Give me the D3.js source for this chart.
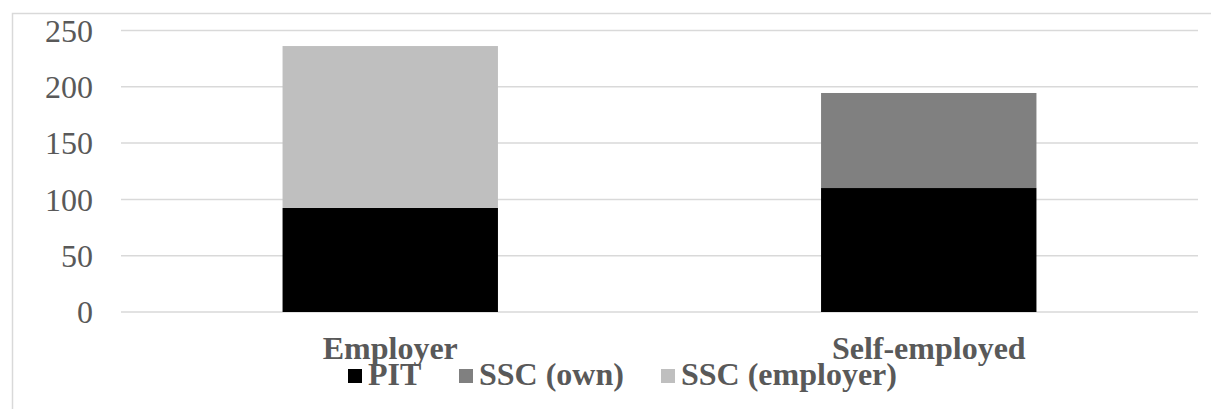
<!DOCTYPE html>
<html>
<head>
<meta charset="utf-8">
<script src="https://cdn.jsdelivr.net/npm/d3@7/dist/d3.min.js"></script>
<style>
  html, body { margin: 0; padding: 0; background: #fff; }
  svg { display: block; }
</style>
</head>
<body>
<svg id="chart" width="1211" height="409"></svg>
<script>
// Tax and contribution burden by category (stacked)
const categories = ["Employer", "Self-employed"];
const seriesNames = ["PIT", "SSC (own)", "SSC (employer)"];
const pitValues = [92.4, 110.1];
const sscOwnValues = [0, 84.4];
const sscEmployerValues = [143.8, 0];
const yTicks = [0, 50, 100, 150, 200, 250];
const seriesColors = ["#000000", "#808080", "#bfbfbf"];

const rows = categories.map((c, i) => ({
  category: c,
  "PIT": pitValues[i],
  "SSC (own)": sscOwnValues[i],
  "SSC (employer)": sscEmployerValues[i]
}));

const svg = d3.select("#chart");
const W = 1211, H = 409;
const plot = { left: 121, right: 1198, top: 30.5, bottom: 312 };
const textColor = "#595959";
const gridColor = "#d9d9d9";
const font = "'Liberation Serif', 'Times New Roman', serif";

// Outer chart frame
svg.append("rect")
  .attr("x", 12.5).attr("y", 13.5)
  .attr("width", W).attr("height", H)
  .attr("fill", "#fff")
  .attr("stroke", gridColor).attr("stroke-width", 1.5);

const x = d3.scaleBand()
  .domain(categories)
  .range([plot.left, plot.right])
  .paddingInner(0.6)
  .paddingOuter(0.3);

const y = d3.scaleLinear()
  .domain([0, 250])
  .range([plot.bottom, plot.top]);

// Horizontal gridlines
svg.append("g")
  .selectAll("line")
  .data(yTicks)
  .join("line")
  .attr("x1", plot.left).attr("x2", plot.right)
  .attr("y1", d => y(d)).attr("y2", d => y(d))
  .attr("stroke", gridColor).attr("stroke-width", 1.5);

// Y axis labels
const yAxis = d3.axisLeft(y).tickValues(yTicks).tickSize(0).tickPadding(0);
const yG = svg.append("g")
  .attr("transform", `translate(93,0)`)
  .call(yAxis);
yG.select(".domain").remove();
yG.selectAll("text")
  .attr("font-family", font)
  .attr("font-size", 32)
  .attr("fill", textColor)
  .attr("dy", "0.34em");

// Stacked bars
const stack = d3.stack().keys(seriesNames);
const layers = stack(rows);

svg.append("g")
  .selectAll("g")
  .data(layers)
  .join("g")
  .attr("fill", (d, i) => seriesColors[i])
  .selectAll("rect")
  .data(d => d.filter(s => s[1] - s[0] > 0))
  .join("rect")
  .attr("x", d => x(d.data.category))
  .attr("width", x.bandwidth())
  .attr("y", d => y(d[1]))
  .attr("height", d => y(d[0]) - y(d[1]));

// Category labels
const xAxis = d3.axisBottom(x).tickSize(0).tickPadding(0);
const xG = svg.append("g")
  .attr("transform", `translate(0,${plot.bottom})`)
  .call(xAxis);
xG.select(".domain").remove();
xG.selectAll("text")
  .attr("font-family", font)
  .attr("font-size", 32)
  .attr("font-weight", "bold")
  .attr("fill", textColor)
  .attr("dy", null)
  .attr("y", 47);

// Legend
const legendX = [348, 459, 661];
const legend = svg.append("g");
const items = legend.selectAll("g")
  .data(seriesNames)
  .join("g")
  .attr("transform", (d, i) => `translate(${legendX[i]},0)`);
items.append("rect")
  .attr("x", 0).attr("y", 369)
  .attr("width", 14).attr("height", 14)
  .attr("fill", (d, i) => seriesColors[i]);
items.append("text")
  .attr("x", 20).attr("y", 385)
  .attr("font-family", font)
  .attr("font-size", 32)
  .attr("font-weight", "bold")
  .attr("fill", textColor)
  .text(d => d);
</script>
</body>
</html>
